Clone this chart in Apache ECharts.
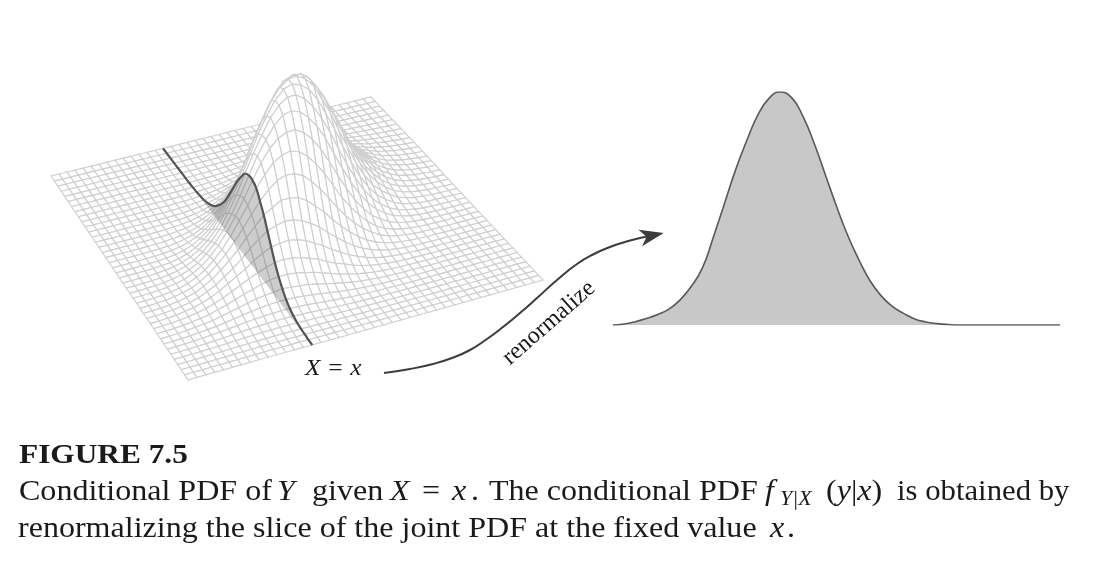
<!DOCTYPE html>
<html>
<head>
<meta charset="utf-8">
<style>
  html, body { margin: 0; padding: 0; background: #fff; }
  #chart { width: 1096px; height: 564px; }
</style>
</head>
<body>
<div id="chart"></div>
<script src="https://cdn.jsdelivr.net/npm/echarts@6/dist/echarts.min.js"></script>
<script>
// corners of the base plane
var planeLeft = [51, 176]
var planeTop = [371, 97]
var planeRight = [543, 280]
var planeBottom = [188, 380]
var cellCount = 40
var sliceRow = 14

// estimated surface heights, one row per mesh line, zero outside each row
var rowStarts = [23, 20, 19, 18, 17, 16, 15, 14, 13, 12, 11, 10, 9, 8, 8, 7, 6, 5, 4, 3, 2, 1, 0, 0, 0, 0, 0, 0, 0, 0, 0, 0, 0, 0, 0, 0, 0, 0, 0, 0, 1]
var heightRows = [
  [.1,.1,.2,.2,.2,.3,.3,.3,.3,.3,.3,.2,.2,.2,.1,.1],
  [.1,.1,.1,.2,.3,.3,.4,.5,.5,.6,.6,.6,.5,.5,.4,.3,.3,.2,.1,.1,.1],
  [.1,.1,.2,.3,.4,.5,.6,.8,.9,1,1,1,1,.9,.8,.6,.5,.4,.3,.2,.1,.1],
  [.1,.2,.3,.4,.6,.7,1,1.2,1.4,1.6,1.7,1.7,1.7,1.6,1.4,1.2,1,.7,.6,.4,.3,.2,.1],
  [.1,.2,.4,.6,.8,1.1,1.5,1.9,2.3,2.6,2.9,3,3,2.9,2.6,2.3,1.9,1.5,1.1,.8,.6,.4,.2,.1],
  [.2,.3,.5,.7,1.1,1.5,2,2.6,3.2,3.7,4.2,4.5,4.6,4.5,4.2,3.7,3.2,2.6,2,1.5,1.1,.7,.5,.3,.2],
  [.2,.3,.6,.9,1.3,1.9,2.7,3.5,4.4,5.3,6.1,6.7,7,7,6.7,6.1,5.3,4.4,3.5,2.7,1.9,1.3,.9,.6,.3,.2],
  [.2,.4,.7,1.1,1.7,2.6,3.6,4.8,6.2,7.6,9,10,10.7,11,10.7,10,9,7.6,6.2,4.8,3.6,2.6,1.7,1.1,.7,.4,.2],
  [.3,.4,.8,1.3,2,3.1,4.4,6.1,8,10,12,14,15,16,16,15,14,12,10,8,6.1,4.4,3.1,2,1.3,.8,.4,.3],
  [.3,.5,.9,1.4,2.3,3.6,5.3,7.5,10,13,16,19,21,22.5,23,22.5,21,19,16,13,10,7.5,5.3,3.6,2.3,1.4,.9,.5,.3],
  [.3,.5,.9,1.5,2.6,4,6,8.7,12,16,20,24,27,30,31,31,30,27,24,20,16,12,8.7,6,4,2.6,1.5,.9,.5,.3],
  [.3,.5,.9,1.6,2.6,4.3,6.6,9.7,14,18.5,24,29,34,38,41,42,41,38,34,29,24,18.5,14,9.7,6.6,4.3,2.6,1.6,.9,.5,.3],
  [.2,.4,.9,1.5,2.7,4.5,7,10.6,15,21,27.6,35,42,48,52,55,55,52,48,42,35,27.6,21,15,10.6,7,4.5,2.7,1.5,.9,.4,.2],
  [.2,.4,.8,1.5,2.6,4.4,7,11,16,23,31,40,49,57,64,68,70,68,64,57,49,40,31,23,16,11,7,4.4,2.6,1.5,.8,.4,.2],
  [.3,.7,1.4,2.4,4.3,7,11,17,24,33,44,55,66,75,83,86,86,83,75,66,55,44,33,24,17,11,7,4.3,2.4,1.4,.7,.3],
  [.3,.6,1.1,2.2,3.8,6.5,10.5,16,24,34,45,58,71,84,94,101,103,101,94,84,71,58,45,34,24,16,10.5,6.5,3.8,2.2,1.1,.6,.3],
  [.2,.5,1,1.9,3.4,5.9,9.7,15,23,33,46,60,76,91,104,113,117,117,113,104,91,76,60,46,33,23,15,9.7,5.9,3.4,1.9,1,.5,.2],
  [.2,.4,.8,1.5,2.8,5,8.5,14,21,31,44,59,76,94,109,121,129,132,129,121,109,94,76,59,44,31,21,14,8.5,5,2.8,1.5,.8,.4,.2],
  [.1,.3,.6,1.2,2.4,4.1,7.3,12,19,28,41,56,74,93,111,125,137,142,142,137,125,111,93,74,56,41,28,19,12,7.3,4.1,2.4,1.2,.6,.3,.1],
  [.1,.2,.5,.9,1.7,3.3,5.8,9.9,16,25,36,51,69,89,108,125,139,148,151,148,139,125,108,89,69,51,36,25,16,9.9,5.8,3.3,1.7,.9,.5,.2,.1],
  [.1,.1,.3,.6,1.3,2.6,4.5,7.9,13,20,31,45,61,81,101,120,136,148,154,154,148,136,120,101,81,61,45,31,20,13,7.9,4.5,2.6,1.3,.6,.3,.1,.1],
  [.1,.1,.2,.5,1,1.8,3.4,6,10,16,25,37,53,71,91,111,128,142,151,155,151,142,128,111,91,71,53,37,25,16,10,6,3.4,1.8,1,.5,.2,.1,.1],
  [.1,.1,.1,.3,.6,1.3,2.5,4.4,7.7,13,20,30,43,60,79,99,117,132,144,150,150,144,132,117,99,79,60,43,30,20,13,7.7,4.4,2.5,1.3,.6,.3,.1,.1,.1],
  [.1,.1,.2,.4,.9,1.6,3.1,5.5,9.3,15,23,34,48,65,84,103,118,132,141,143,141,132,118,103,84,65,48,34,23,15,9.3,5.5,3.1,1.6,.9,.4,.2,.1,.1],
  [.1,.1,.3,.5,1.1,2.2,3.8,6.6,11,17,26,37,51,68,85,102,115,125,131,131,125,115,102,85,68,51,37,26,17,11,6.6,3.8,2.2,1.1,.5,.3,.1,.1],
  [.1,.2,.4,.7,1.3,2.5,4.4,7.6,12,19,28,39,53,68,83,98,109,115,118,115,109,98,83,68,53,39,28,19,12,7.6,4.4,2.5,1.3,.7,.4,.2,.1],
  [.1,.2,.4,.8,1.6,2.9,5,8.3,13,20,29,39,52,65,78,89,98,102,102,98,89,78,65,52,39,29,20,13,8.3,5,2.9,1.6,.8,.4,.2,.1],
  [.1,.3,.5,1,1.8,3.2,5.5,8.9,14,20,28,38,49,60,71,79,85,87,85,79,71,60,49,38,28,20,14,8.9,5.5,3.2,1.8,1,.5,.3,.1],
  [.1,.3,.6,1.1,2,3.4,5.7,8.9,13,19,27,35,44,53,61,67,70,70,67,61,53,44,35,27,19,13,8.9,5.7,3.4,2,1.1,.6,.3,.1],
  [.2,.3,.6,1.2,2,3.5,5.6,8.6,13,18,24,31,38,45,50,54,55,54,50,45,38,31,24,18,13,8.6,5.6,3.5,2,1.2,.6,.3,.2],
  [.2,.3,.7,1.2,2.1,3.4,5.3,8.1,12,16,21,26,32,36,40,42,42,40,36,32,26,21,16,12,8.1,5.3,3.4,2.1,1.2,.7,.3,.2],
  [.2,.3,.7,1.2,2,3.2,4.9,7.3,10,14,18,22,26,29,31,31.5,31,29,26,22,18,14,10,7.3,4.9,3.2,2,1.2,.7,.3,.2],
  [.2,.4,.6,1.1,1.9,2.9,4.4,6.4,8.8,12,14.5,17,20,22,23,23,22,20,17,14.5,12,8.8,6.4,4.4,2.9,1.9,1.1,.6,.4,.2],
  [.2,.3,.6,1,1.6,2.5,3.7,5.2,7,9,11,13,14.6,15.6,16,15.6,14.6,13,11,9,7,5.2,3.7,2.5,1.6,1,.6,.3,.2],
  [.2,.3,.5,.9,1.4,2.1,3,4.2,5.5,6.9,8.3,9.5,10.5,10.9,10.9,10.5,9.5,8.3,6.9,5.5,4.2,3,2.1,1.4,.9,.5,.3,.2],
  [.1,.3,.4,.7,1.1,1.6,2.3,3.1,4,4.9,5.7,6.4,6.8,7,6.8,6.4,5.7,4.9,4,3.1,2.3,1.6,1.1,.7,.4,.3,.1],
  [.1,.2,.4,.6,1,1.4,1.9,2.5,3.2,3.8,4.3,4.8,5,5,4.8,4.3,3.8,3.2,2.5,1.9,1.4,1,.6,.4,.2,.1],
  [.1,.2,.3,.5,.7,1,1.3,1.7,2.1,2.4,2.7,2.9,3,2.9,2.7,2.4,2.1,1.7,1.3,1,.7,.5,.3,.2,.1],
  [.1,.2,.3,.4,.6,.8,1,1.3,1.5,1.7,1.9,2,2,1.9,1.7,1.5,1.3,1,.8,.6,.4,.3,.2,.1],
  [.1,.1,.2,.2,.3,.4,.6,.7,.8,.9,1,1,1,.9,.8,.7,.6,.4,.3,.2,.2,.1,.1],
  [.1,.1,.2,.2,.3,.4,.5,.5,.6,.6,.6,.6,.5,.5,.4,.3,.2,.2,.1,.1]
]

// renormalized slice, x as percent of its axis and y as share of the peak
var bellX = [0, 2.5, 5, 7.5, 10, 12.5, 15, 17.5, 20, 22.5, 25, 27.5, 30, 32.5, 35, 37.3, 40, 42.5, 45, 47.5, 50, 52.5, 55, 57.5, 60, 62.5, 65, 67.5, 70, 72.5, 75, 77.5, 100]
var bellY = [0, .004, .014, .028, .045, .068, .108, .165, .245, .38, .525, .67, .795, .905, .975, 1, .975, .895, .78, .645, .51, .385, .28, .19, .125, .08, .05, .026, .013, .006, .002, 0, 0]

// arrow between the two panels
var arrowX = [384, 410, 433, 452, 470, 487, 503, 520, 537, 557, 577, 594, 610, 625, 640, 660]
var arrowY = [373, 369, 364, 358, 350, 339, 327, 313, 298, 280, 264, 254, 247, 242, 238, 234]

function heightAt(i, j) {
  return heightRows[j][i - rowStarts[j]] || 0
}

function basePoint(i, j) {
  var u = i / cellCount
  var v = j / cellCount
  var lx = planeLeft[0] + (planeBottom[0] - planeLeft[0]) * u
  var ly = planeLeft[1] + (planeBottom[1] - planeLeft[1]) * u
  var rx = planeTop[0] + (planeRight[0] - planeTop[0]) * u
  var ry = planeTop[1] + (planeRight[1] - planeTop[1]) * u
  return [lx + (rx - lx) * v, ly + (ry - ly) * v]
}

function surfacePoint(i, j) {
  var p = basePoint(i, j)
  return [p[0], p[1] - heightAt(i, j)]
}

// back to front so the hump hides what is behind it
var cells = []
for (var i = 0; i < cellCount; i++) {
  for (var j = cellCount - 1; j >= 0; j--) {
    cells.push([i, j])
  }
}

var sliceLine = []
var sliceBase = []
for (var k = 0; k <= cellCount; k++) {
  sliceLine.push(surfacePoint(k, sliceRow))
  sliceBase.push(basePoint(k, sliceRow))
}

var bellData = bellX.map(function(x, idx) {
  return [x, bellY[idx]]
})
var arrowData = arrowX.map(function(x, idx) {
  return [x, arrowY[idx]]
})

var serif = '"Liberation Serif", serif'
var captionColor = '#1a1a1a'

function piece(text, x, y, opts) {
  opts = opts || {}
  return {
    type: 'text',
    x: x,
    y: y,
    scaleX: opts.scaleX || 1.105,
    rotation: opts.rotation || 0,
    silent: true,
    style: {
      text: text,
      fill: captionColor,
      font: (opts.style || 'normal') + ' ' + (opts.size || 29) + 'px ' + serif,
      align: opts.align || 'left',
      verticalAlign: 'middle',
      rich: opts.rich
    }
  }
}

var mathRich = {
  n: { font: 'normal 29px ' + serif, fill: captionColor },
  i: { font: 'italic 29px ' + serif, fill: captionColor }
}

var chart = echarts.init(document.getElementById('chart'))
chart.setOption({
  animation: false,
  backgroundColor: '#fff',
  grid: [
    { left: 0, top: 0, width: 1096, height: 564 },
    { left: 613, top: 92, width: 447, height: 233 }
  ],
  xAxis: [
    { type: 'value', gridIndex: 0, min: 0, max: 1096, show: false },
    { type: 'value', gridIndex: 1, min: 0, max: 100, show: false }
  ],
  yAxis: [
    { type: 'value', gridIndex: 0, min: 0, max: 564, inverse: true, show: false },
    { type: 'value', gridIndex: 1, min: 0, max: 1, show: false }
  ],
  graphic: [
    piece('FIGURE 7.5', 19, 456, { style: 'bold', size: 27, scaleX: 1.16 }),
    piece('Conditional PDF of', 19, 492),
    piece('Y', 277, 492, { style: 'italic' }),
    piece('given', 312, 492),
    piece('X', 390, 492, { style: 'italic' }),
    piece('=', 422, 492),
    piece('x', 452, 492, { style: 'italic' }),
    piece('.', 471, 492),
    piece('The conditional PDF', 489, 492),
    piece('f', 765, 492, { style: 'italic' }),
    piece('Y|X', 780, 500, { style: 'italic', size: 20 }),
    piece('{n|(}{i|y}{n||}{i|x}{n|)}', 826, 492, { rich: mathRich }),
    piece('is obtained by', 897, 492, { scaleX: 1.06 }),
    piece('renormalizing the slice of the joint PDF at the fixed value', 18, 529),
    piece('x', 770, 529, { style: 'italic' }),
    piece('.', 787, 529),
    piece('X = x', 305, 369, { style: 'italic', size: 23, scaleX: 1.1 }),
    piece('renormalize', 549, 323, { size: 24, scaleX: 1, rotation: 0.72, align: 'center' })
  ],
  series: [
    {
      type: 'custom',
      coordinateSystem: 'cartesian2d',
      xAxisIndex: 0,
      yAxisIndex: 0,
      silent: true,
      progressive: 0,
      z: 1,
      data: cells,
      renderItem: function(params, api) {
        var a = api.value(0)
        var b = api.value(1)
        return {
          type: 'polygon',
          shape: {
            points: [
              api.coord(surfacePoint(a, b)),
              api.coord(surfacePoint(a + 1, b)),
              api.coord(surfacePoint(a + 1, b + 1)),
              api.coord(surfacePoint(a, b + 1))
            ]
          },
          style: { fill: '#fff', stroke: '#cfcfcf', lineWidth: 1.15 }
        }
      }
    },
    {
      type: 'custom',
      coordinateSystem: 'cartesian2d',
      xAxisIndex: 0,
      yAxisIndex: 0,
      silent: true,
      z: 2,
      data: [[0, 0]],
      renderItem: function(params, api) {
        var points = sliceLine.concat(sliceBase.slice().reverse()).map(function(p) {
          return api.coord(p)
        })
        return {
          type: 'polygon',
          shape: { points: points },
          style: { fill: 'rgba(90, 90, 90, 0.3)' }
        }
      }
    },
    {
      type: 'line',
      xAxisIndex: 0,
      yAxisIndex: 0,
      data: sliceLine,
      smooth: 0.5,
      symbol: 'none',
      silent: true,
      z: 3,
      lineStyle: { color: '#555', width: 2.2 }
    },
    {
      type: 'line',
      xAxisIndex: 1,
      yAxisIndex: 1,
      data: bellData,
      smooth: 0.5,
      symbol: 'none',
      silent: true,
      z: 2,
      lineStyle: { color: '#595959', width: 1.6 },
      areaStyle: { color: '#c8c8c8', opacity: 1 }
    },
    {
      type: 'line',
      xAxisIndex: 0,
      yAxisIndex: 0,
      data: arrowData,
      smooth: 0.5,
      symbol: 'none',
      silent: true,
      z: 3,
      lineStyle: { color: '#3c3c3c', width: 2 }
    },
    {
      type: 'scatter',
      xAxisIndex: 0,
      yAxisIndex: 0,
      data: [[652, 235.5]],
      symbol: 'path://M10 0 L20 26 L10 19 L0 26 Z',
      symbolSize: [17, 24],
      symbolRotate: -78,
      silent: true,
      z: 4,
      itemStyle: { color: '#3c3c3c', opacity: 1 }
    }
  ]
})
</script>
</body>
</html>
